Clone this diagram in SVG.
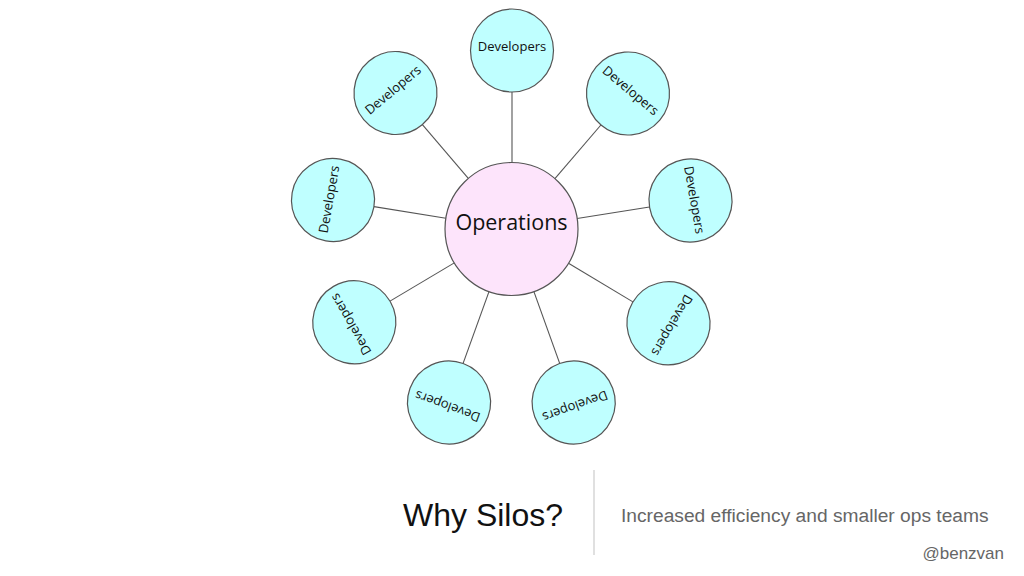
<svg xmlns="http://www.w3.org/2000/svg" width="1024" height="576" viewBox="0 0 1024 576">
<style>
.sat{fill:#bfffff;stroke:#555;stroke-width:1.2}
.ops{fill:#fde4fb;stroke:#555;stroke-width:1.2}
.dev{font-family:"Open Sans","Noto Sans",sans-serif;font-size:13px;fill:#111;text-anchor:middle}
.opst{font-family:"Open Sans","Noto Sans",sans-serif;font-size:21.5px;fill:#111;text-anchor:middle}
#connectors line{stroke:#555;stroke-width:1.1}
</style>
<rect width="1024" height="576" fill="#fff"/>
<g id="connectors">
<line x1="512" y1="162.5" x2="512" y2="92"/>
<line x1="554.9" y1="178.6" x2="600.9" y2="125"/>
<line x1="577.1" y1="218.5" x2="649.5" y2="207"/>
<line x1="568.5" y1="263.2" x2="632.9" y2="301.9"/>
<line x1="533.9" y1="291.6" x2="559.7" y2="363.4"/>
<line x1="489" y1="291.6" x2="463.1" y2="363.4"/>
<line x1="454.3" y1="262.9" x2="390" y2="301.1"/>
<line x1="445.9" y1="218.3" x2="374" y2="206.6"/>
<line x1="468.3" y1="178.4" x2="422.4" y2="124.6"/>
</g>
<g id="operations">
<circle class="ops" cx="511.5" cy="229" r="66.5"/>
<text class="opst" x="511.5" y="229.5">Operations</text>
</g>
<g id="dev1" transform="translate(512,50.5)"><circle class="sat" r="41.5"/><text class="dev" y="0.5">Developers</text></g>
<g id="dev2" transform="translate(628,93.5) rotate(40)"><circle class="sat" r="41.5"/><text class="dev" y="0.5">Developers</text></g>
<g id="dev3" transform="translate(690.5,200.5) rotate(80)"><circle class="sat" r="41.5"/><text class="dev" y="0.5">Developers</text></g>
<g id="dev4" transform="translate(668.5,323.3) rotate(120)"><circle class="sat" r="41.5"/><text class="dev" y="0.5">Developers</text></g>
<g id="dev5" transform="translate(573.7,402.5) rotate(160)"><circle class="sat" r="41.5"/><text class="dev" y="0.5">Developers</text></g>
<g id="dev6" transform="translate(449,402.5) rotate(200)"><circle class="sat" r="41.5"/><text class="dev" y="0.5">Developers</text></g>
<g id="dev7" transform="translate(354.3,322.3) rotate(240)"><circle class="sat" r="41.5"/><text class="dev" y="0.5">Developers</text></g>
<g id="dev8" transform="translate(333,200) rotate(280)"><circle class="sat" r="41.5"/><text class="dev" y="0.5">Developers</text></g>
<g id="dev9" transform="translate(395.5,93) rotate(320)"><circle class="sat" r="41.5"/><text class="dev" y="0.5">Developers</text></g>
<g id="footer">
<text x="403" y="526" font-family="'Liberation Sans',Arial,sans-serif" font-size="32" fill="#111">Why Silos?</text>
<line x1="594" y1="470" x2="594" y2="555" stroke="#ccc" stroke-width="1.2"/>
<text x="621" y="522" font-family="'Liberation Sans',Arial,sans-serif" font-size="19.2" fill="#666">Increased efficiency and smaller ops teams</text>
<text x="1004" y="559" text-anchor="end" font-family="'Liberation Sans',Arial,sans-serif" font-size="17" fill="#666">@benzvan</text>
</g>
</svg>
